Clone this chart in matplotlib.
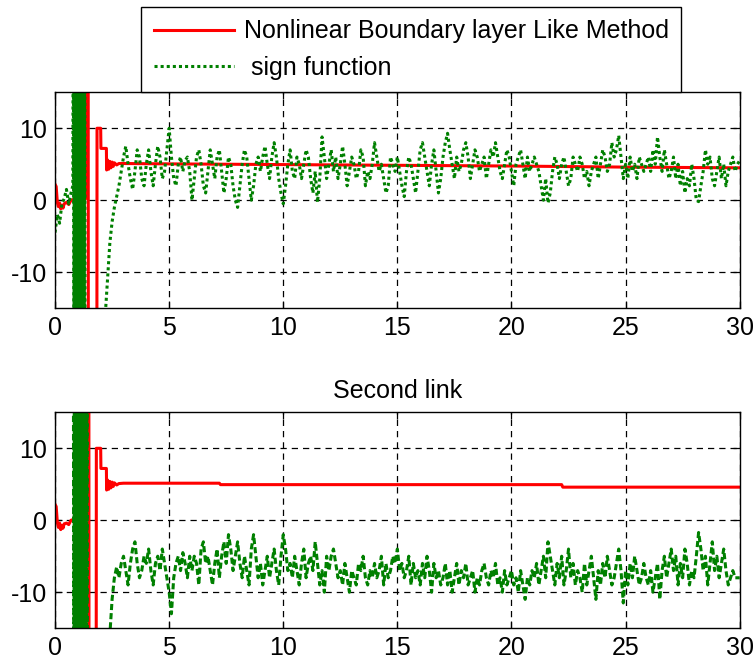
import numpy as np
import matplotlib
matplotlib.use("Agg")
import matplotlib.pyplot as plt

plt.rcParams['font.family'] = ['Liberation Sans', 'DejaVu Sans']
plt.rcParams['axes.unicode_minus'] = False

# ---- first link: boundary layer method (red) ----
red1_t = [0, 0.05, 0.1, 0.15, 0.2, 0.25, 0.3, 0.35, 0.4, 0.5, 0.6, 0.7, 0.8,
          1.0, 1.2, 1.33, 1.34, 1.45, 1.46, 1.83, 1.84, 2.0, 2.01, 2.25, 2.26,
          2.3, 2.35, 2.4, 2.45, 2.5, 2.55, 2.6, 2.7, 2.8, 3.0,
          5, 10, 15, 20, 25, 30]
red1_y = [2.2, 1.9, -0.3, -0.9, -0.4, -1.2, -0.7, -1.1, -0.5, -0.3, -0.6, 0.0, 0.1,
          0.2, 0.1, 0.2, 40, 40, -40, -40, 10, 10, 7.2, 7.2, 4.2,
          5.6, 4.3, 5.4, 4.5, 5.3, 4.7, 5.2, 4.9, 5.1, 5.1,
          5.05, 4.95, 4.85, 4.75, 4.6, 4.5]

# ---- first link: sign function (green) ----
grn1_t0 = [0, 0.1, 0.2, 0.3, 0.4, 0.5, 0.6, 0.7, 0.78]
grn1_y0 = [-4.5, -2.0, -3.2, -0.5, 0.2, 1.5, -0.5, 1.0, 2.0]
chat1_t = [0.80, 0.825, 0.85, 0.875, 0.90, 0.925, 0.95, 0.975, 1.00, 1.025,
           1.05, 1.075, 1.10, 1.125, 1.15, 1.175, 1.20, 1.225, 1.25, 1.275, 1.30]
chat1_y = [40, -40, 40, -40, 40, -40, 40, -40, 40, -40,
           40, -40, 40, -40, 40, -40, 40, -40, 40, -40, 40]
grn1_gap_t = [1.32, 1.95]
grn1_gap_y = [-40, -40]
grn1_y = [
    -30, -22, -16, -11, -6, -3, -1, 0.5, 2, 4,        # 2.0
    6, 7.5, 5, 3, 1.5, 4, 7, 6, 3, 2,                 # 3.0
    5, 7, 4, 2, 5, 7.5, 6, 3, 4, 7,                   # 4.0
    10, 6, 3, 2, 5, 6, 4, 5.5, 6, 4,                  # 5.0
    0, 3, 6, 7, 5, 2, 1, 4, 7, 5,                     # 6.0
    3, 6, 7, 4, 1, 3, 6, 5, 2, 0,                     # 7.0
    -1, 2, 5, 7, 6, 3, 0, 2, 5, 6,                    # 8.0
    4, 6, 7.5, 5, 3, 6, 8, 6, 3, 1,                   # 9.0
    -0.5, 2, 5, 7, 4, 3, 6, 5, 3, 5,                  # 10.0
    7, 6, 3, 1, 4, -0.3, 3, 8.8, 6, 3,                # 11.0
    5, 7, 4, 6, 3, 5, 7.5, 5, 2, 4,                   # 12.0
    6, 5, 3, 4, 7, 6, 2, 4, 3, 5,                     # 13.0
    8, 6, 4, 5, 3, 1, 2, 6, 5, 4,                     # 14.0
    6, 4, 2, 0.5, 4, 6, 5, 3, 1, 4,                   # 15.0
    7, 8, 6, 4, 2, 5, 7, 4, 1, 3,                     # 16.0
    6, 8, 9.3, 7, 5, 3, 6, 4, 5, 7,                   # 17.0
    8, 6, 3, 5, 7, 6, 4, 5, 6, 3,                     # 18.0
    5, 7, 6, 8, 6, 4, 3, 5, 7, 6,                     # 19.0
    4, 2, 5, 6, 7, 5, 3, 6, 4, 5,                     # 20.0
    6, 5, 4, 2, 0, 3, -0.4, 1, 4, 6,                  # 21.0
    5, 3, 5, 6, 4, 2, 3, 6, 5, 4,                     # 22.0
    6, 5, 3, 4, 2, 4, 5, 6, 3, 5,                     # 23.0
    7, 6, 4, 5, 8, 6, 7, 9, 6, 3,                     # 24.0
    5, 3, 6, 4, 5, 3, 6, 5, 4, 5,                     # 25.0
    6, 4, 7, 5, 8.8, 6, 4, 7, 5, 3,                   # 26.0
    4, 6, 3, 5, 2, 4, 1, 3, 2, 5,                     # 27.0
    3, 0, -0.2, 2, 4, 7, 5, 6, 3, 2,                  # 28.0
    4, 6, 3, 5, 2, 4, 5, 6, 4, 5,                     # 29.0
    5.5]                                              # 30.0

# ---- second link: boundary layer method (red) ----
red2_t = [0, 0.05, 0.1, 0.15, 0.2, 0.25, 0.3, 0.35, 0.4, 0.5, 0.6, 0.7, 0.8,
          1.0, 1.2, 1.42, 1.43, 1.48, 1.49, 1.80, 1.81, 2.0, 2.01, 2.25, 2.26,
          2.3, 2.35, 2.4, 2.45, 2.5, 2.55, 2.6, 2.7, 2.8, 3.0,
          7.2, 7.25, 22.2, 22.25, 30]
red2_y = [2.2, 1.9, -0.3, -1.0, -0.4, -1.3, -0.7, -1.1, -0.5, -0.4, -0.6, 0.0, 0.1,
          0.2, 0.1, 0.2, 40, 40, -40, -40, 10, 10, 7.2, 7.2, 4.2,
          5.6, 4.3, 5.4, 4.5, 5.3, 4.7, 5.2, 4.9, 5.1, 5.15,
          5.15, 4.95, 4.95, 4.6, 4.6]

# ---- second link: sign function (green) ----
chat2_t = [0.80, 0.825, 0.85, 0.875, 0.90, 0.925, 0.95, 0.975, 1.00, 1.025,
           1.05, 1.075, 1.10, 1.125, 1.15, 1.175, 1.20, 1.225, 1.25, 1.275,
           1.30, 1.325, 1.35, 1.375, 1.40]
chat2_y = [40, -40, 40, -40, 40, -40, 40, -40, 40, -40,
           40, -40, 40, -40, 40, -40, 40, -40, 40, -40,
           40, -40, 40, -40, 40]
grn2_gap_t = [1.42, 2.25]
grn2_gap_y = [-40, -40]
grn2_y = [
    -30, -16, -11, -8, -6.5, -8, -6,                  # 2.3
    -5, -7, -9, -6, -4, -3, -6, -8, -7, -5,           # 3.0
    -6, -4, -7, -9, -6, -5, -7, -4, -6, -8,           # 4.0
    -10, -13, -8, -6, -5, -7, -4.5, -6, -8, -5,       # 5.0
    -7, -5, -6, -9, -4, -3, -6, -5, -7, -9,           # 6.0
    -6, -4, -8, -5, -3, -6, -2, -4, -7, -5,           # 7.0
    -3, -6, -8, -5, -7, -9, -4, -2, -5, -8,           # 8.0
    -6, -9, -7, -5, -8, -6, -4, -7, -9, -5,           # 9.0
    -2, -4, -7, -6, -8, -5, -7, -9, -6, -4,           # 10.0
    -8, -6, -5, -7, -3, -6, -9, -7, -10, -5,          # 11.0
    -7, -5, -4, -6, -8, -7, -9, -6, -8, -10,          # 12.0
    -7, -8, -9, -6, -7, -5, -8, -9, -7, -8,           # 13.0
    -6, -8, -7, -5, -9, -6, -8, -7, -5, -6,           # 14.0
    -4, -7, -6, -8, -7, -5, -9, -6, -8, -7,           # 15.0
    -9, -6, -8, -5, -7, -10, -6, -8, -7, -9,          # 16.0
    -8, -6, -9, -7, -10, -8, -6, -9, -7, -8,          # 17.0
    -6, -9, -8, -7, -10, -8, -9, -7, -6, -8,          # 18.0
    -9, -7, -8, -6, -9, -8, -10, -7, -9, -8,          # 19.0
    -7, -9, -8, -10, -7, -9, -11, -8, -9, -7,         # 20.0
    -8, -6, -9, -7, -5, -8, -3, -5, -7, -9,           # 21.0
    -6, -8, -5, -9, -7, -4, -8, -6, -9, -7,           # 22.0
    -8, -10, -6, -9, -7, -5, -8, -11, -7, -9,         # 23.0
    -6, -8, -5, -7, -9, -8, -6, -4, -7, -11.5,        # 24.0
    -7, -9, -6, -8, -5, -7, -9, -8, -6, -8,           # 25.0
    -9, -7, -10, -8, -6, -11, -7, -5, -8, -6,         # 26.0
    -4, -7, -5, -9, -6, -8, -4, -6, -9, -7,           # 27.0
    -8, -5, -1.7, -4, -7, -5, -9, -6, -3, -7,         # 28.0
    -5, -8, -6, -4, -7, -9, -8, -7, -8, -8,           # 29.0
    -8]                                               # 30.0

grn1_t = grn1_t0 + chat1_t + grn1_gap_t + list(np.round(np.arange(2.0, 30.001, 0.1), 2))
grn1_all = grn1_y0 + chat1_y + grn1_gap_y + grn1_y
grn2_t = chat2_t + grn2_gap_t + list(np.round(np.arange(2.3, 30.001, 0.1), 2))
grn2_all = chat2_y + grn2_gap_y + grn2_y

RED = '#ff0000'
GREEN = '#008000'

fig = plt.figure(figsize=(7.54, 6.64), dpi=100)
ax1 = fig.add_axes([0.073, 0.536, 0.908, 0.325])
ax2 = fig.add_axes([0.073, 0.054, 0.908, 0.325])

ax1.plot(red1_t, red1_y, color=RED, lw=2.2, label='Nonlinear Boundary layer Like Method')
ax1.plot(grn1_t, grn1_all, color=GREEN, lw=2.2, linestyle=(0, (1, 1)), label=' sign function')

ax2.plot(red2_t, red2_y, color=RED, lw=2.2)
ax2.plot(grn2_t, grn2_all, color=GREEN, lw=2.2, linestyle=(0, (2, 1)))

for ax in (ax1, ax2):
    ax.set_xlim(0, 30)
    ax.set_ylim(-15, 15)
    ax.set_xticks([0, 5, 10, 15, 20, 25, 30])
    ax.set_yticks([-10, 0, 10])
    ax.grid(True, color='black', linestyle=(0, (5, 4)), lw=0.9)
    ax.tick_params(direction='in', length=5, top=True, right=True,
                   labelsize=18, pad=6, width=0.9)
    for sp in ax.spines.values():
        sp.set_linewidth(1.0)

ax2.set_title('Second link', fontsize=18, pad=10)

leg = ax1.legend(loc='lower center', bbox_to_anchor=(0.52, 1.0), fontsize=18,
                 fancybox=False, framealpha=1, edgecolor='black',
                 handlelength=3.2, handletextpad=0.4, borderaxespad=0,
                 labelspacing=0.5, borderpad=0.5)
leg.get_frame().set_linewidth(1.0)

fig.savefig('out.png', dpi=100)
